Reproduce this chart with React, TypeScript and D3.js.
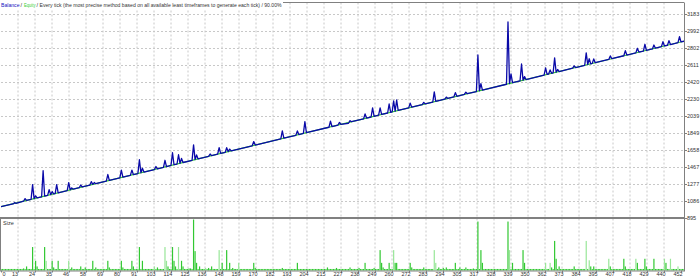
import React from 'react';
import * as d3 from 'd3';

const W = 700;
const H = 279;

// Balance curve vertices [trade, value]
const balance: [number, number][] = [
  [0,1019],[8,1050],[9,1064],[10,1056],[15,1080],[16,1109],[17,1089],[20,1101],[21,1266],[22,1109],[23,1140],[24,1117],[27,1130],[28,1423],[29,1138],
  [31,1146],[32,1210],[33,1154],[34,1187],[35,1162],[36,1166],[37,1266],[38,1175],[44,1199],[45,1288],
  [46,1207],[47,1230],[48,1215],[52,1232],[53,1262],[54,1240],[59,1260],[60,1300],[61,1269],[62,1290],[63,1277],[70,1306],[71,1380],[72,1314],[79,1342],[80,1430],[81,1350],
  [86,1371],[87,1430],[88,1379],[91,1391],[92,1546],[93,1400],[94,1450],[95,1408],[102,1436],[103,1470],[104,1444],[108,1461],[109,1540],[110,1469],[113,1482],
  [114,1625],[115,1490],[117,1498],[118,1602],[119,1506],[120,1560],[121,1515],[127,1539],[128,1714],[129,1547],[130,1600],[131,1555],[138,1584],[139,1610],[140,1592],[144,1608],[145,1681],
  [146,1617],[149,1629],[150,1681],[151,1637],[152,1665],[153,1645],[167,1703],[168,1750],[169,1711],[186,1780],[187,1871],[188,1789],
  [196,1821],[197,1870],[198,1829],[201,1842],[202,1975],[203,1850],[218,1911],[219,1980],[220,1919],[224,1936],[225,1965],[226,1944],
  [231,1956],[232,1985],[233,1973],[241,2005],[242,2060],[243,2014],[246,2026],[247,2128],[248,2034],
  [251,2046],[252,2129],[253,2055],[257,2071],[258,2172],[259,2079],[260,2083],
  [261,2208],[262,2091],[263,2217],[264,2100],[271,2128],[272,2182],[273,2136],[280,2165],[281,2190],[282,2173],[287,2194],[288,2308],[289,2202],[295,2226],[296,2250],[297,2234],[301,2251],[302,2300],[303,2259],[308,2280],[309,2305],[310,2288],[316,2312],[317,2723],
  [318,2321],[319,2400],[320,2329],[336,2394],[337,3093],[338,2402],[339,2510],[340,2411],[345,2431],[346,2622],[347,2439],[348,2480],[349,2447],[361,2496],
  [362,2578],[363,2505],[364,2509],[365,2555],[366,2517],[367,2521],[368,2690],[369,2529],[370,2560],[371,2537],[380,2574],[381,2600],
  [382,2582],[388,2607],[389,2746],[390,2615],[391,2680],[392,2623],[393,2628],[394,2678],[395,2636],[404,2673],[405,2712],[406,2681],
  [414,2714],[415,2772],[416,2722],[422,2746],[423,2798],[424,2755],[427,2767],[428,2843],[429,2775],[433,2791],
  [434,2835],[435,2799],[439,2816],[440,2872],[441,2824],[443,2832],[444,2884],[445,2840],[450,2861],[451,2929],
  [452,2869],[454,2877]
];

// Equity curve vertices [trade, value]
const equity: [number, number][] = [[0,1019],[454,2877]];

// Lot size per trade (relative units)
const sizes: number[] = [
  3,3,3,3,3,3,3,3,3,3,3,3,3,3,3,4,3,8,3,3,
  3,46,3,19,8,3,3,3,3,46,19,3,3,3,19,6,3,3,19,3,
  3,3,3,3,3,19,3,6,3,3,3,3,3,8,3,3,6,3,3,3,
  3,19,3,6,3,3,3,3,3,3,3,19,6,3,3,3,3,3,3,3,
  19,6,3,3,3,3,3,19,8,3,3,3,46,3,19,3,3,3,3,3,
  3,3,8,3,6,3,3,3,3,46,19,8,3,3,46,19,8,3,46,3,
  19,8,3,3,3,4,4,3,100,38,15,3,8,3,3,3,5,3,5,3,
  8,3,3,3,3,40,3,15,3,3,40,3,15,3,5,3,3,3,15,3,
  3,3,3,3,3,3,3,3,15,5,3,3,3,3,3,3,3,3,3,3,
  3,3,3,3,3,3,3,5,3,3,3,3,3,3,3,3,3,15,3,3,
  3,3,3,3,3,3,3,3,3,3,3,3,3,3,3,3,3,6,3,3,
  3,3,3,5,3,3,3,3,3,3,3,3,6,3,3,3,3,3,5,3,
  3,3,15,3,3,3,3,3,5,3,3,3,40,15,6,3,3,3,15,3,
  3,40,15,15,3,3,3,3,3,3,3,3,15,6,3,3,3,3,3,3,
  3,6,3,3,3,3,3,3,40,15,3,6,3,3,5,3,6,3,3,3,
  3,3,15,3,3,6,3,3,3,6,3,3,3,3,4,3,3,96,3,40,
  15,3,3,3,3,3,3,3,3,3,3,3,3,3,3,3,3,96,40,3,
  15,3,3,3,3,3,3,40,15,3,3,3,3,3,3,3,3,3,3,3,
  3,3,15,3,3,15,6,3,58,23,3,8,3,3,3,3,3,3,3,3,
  3,8,3,3,3,3,3,3,3,58,3,20,8,3,8,3,3,3,3,3,
  3,3,3,3,23,8,3,3,3,3,3,3,3,3,23,8,3,3,3,3,
  3,3,23,15,3,3,3,3,23,8,3,3,3,3,23,3,3,3,3,3,
  3,23,15,3,3,23,3,3,3,3,8,3,3,3,3
];

const lightTrades: number[] = [30,45,102,109,110,118,136,145,158,261,288,289,338,362,365,389,391,404,422,441,445,450];

const yTicks: number[] = [3183,2992,2802,2611,2420,2230,2039,1849,1658,1467,1277,1086,895];

const xTickLabels: string[] = [
  '0','13','24','35','46','58','69','80','91','103','114','125','136','148','159','170','182','193','204','215',
  '227','238','249','260','272','283','294','305','317','328','339','350','362','373','384','395','407','418','429','440','452'
];

const legendMain = 'Every tick (the most precise method based on all available least timeframes to generate each tick) / 90.00%';

const FONT = "'Liberation Sans', Arial, sans-serif";

export default function App() {
  const left = 1;
  const right = 684;
  const top = 2.5;
  const mainBottom = 218;
  const sizeBottom = 270.5;

  const x = d3.scaleLinear().domain([0, 452]).range([left, 681]);
  const xi = d3.scaleLinear().domain([0, xTickLabels.length - 1]).range([left, 681]);
  const y = d3.scaleLinear().domain([895, 3183]).range([217.7, 14]);
  const ys = d3.scaleLinear().domain([0, 100]).range([sizeBottom, 219.5]);

  const line = d3.line<[number, number]>().x(d => x(d[0])).y(d => y(d[1]));
  const lightSet = new Set(lightTrades);

  return (
    <svg width={W} height={H} style={{ position: 'absolute', left: 0, top: 0, background: '#fff' }}
      fontFamily={FONT}>
      <defs>
        <clipPath id="mainClip"><rect x={left} y={top} width={right - left} height={mainBottom - top} /></clipPath>
      </defs>
      <rect x={0} y={0} width={W} height={H} fill="#fff" />
      {/* vertical grid */}
      {xTickLabels.map((_, i) => i > 0 && i < xTickLabels.length - 1 ? (
        <line key={'vg' + i} x1={xi(i)} x2={xi(i)} y1={top} y2={sizeBottom} stroke="#c8c8c8" strokeWidth={1} strokeDasharray="2,2" />
      ) : null)}
      {/* horizontal grid */}
      {yTicks.slice(0, -1).map(v => (
        <line key={'hg' + v} x1={left} x2={right} y1={Math.round(y(v)) + 0.5} y2={Math.round(y(v)) + 0.5} stroke="#c8c8c8" strokeWidth={1} strokeDasharray="2,2" />
      ))}
      {/* lines */}
      <g clipPath="url(#mainClip)">
        <path d={line(equity) || ''} fill="none" stroke="#32cd32" strokeWidth={1.2} />
        <path d={line(balance) || ''} fill="none" stroke="#0a0aa8" strokeWidth={1.3} strokeLinejoin="round" />
      </g>
      {/* size bars */}
      {sizes.map((s, i) => (
        <rect key={'b' + i} x={x(i) - 0.6} y={ys(s)} width={1.2} height={sizeBottom - ys(s)}
          fill={lightSet.has(i) ? '#98e698' : '#32c832'} />
      ))}
      {/* borders */}
      <line x1={0} x2={right} y1={top} y2={top} stroke="#808080" strokeWidth={1} />
      <line x1={right + 0.5} x2={right + 0.5} y1={top} y2={sizeBottom + 0.5} stroke="#808080" strokeWidth={1} />
      <line x1={0} x2={right + 1} y1={mainBottom} y2={mainBottom} stroke="#808080" strokeWidth={2} />
      <line x1={0} x2={right + 1} y1={sizeBottom + 0.5} y2={sizeBottom + 0.5} stroke="#808080" strokeWidth={1} />
      <line x1={0.5} x2={0.5} y1={mainBottom} y2={sizeBottom} stroke="#808080" strokeWidth={1} />
      {/* y axis labels */}
      {yTicks.map(v => (
        <g key={'yt' + v}>
          <line x1={right} x2={right + 3} y1={Math.round(y(v)) + 0.5} y2={Math.round(y(v)) + 0.5} stroke="#808080" />
          <text x={687} y={y(v)} dy="0.35em" fontSize={5.5} fill="#333">{v}</text>
        </g>
      ))}
      {/* x axis labels */}
      {xTickLabels.map((l, i) => (
        <g key={'xt' + i}>
          <line x1={xi(i) + 0.5} x2={xi(i) + 0.5} y1={sizeBottom} y2={sizeBottom + 2} stroke="#808080" />
          <text x={i === 0 ? 4 : xi(i) - 3} y={274.5} dy="0.35em" fontSize={5.5} fill="#333" textAnchor="middle">{l}</text>
        </g>
      ))}
      {/* legend */}
      <rect x={0} y={0} width={283} height={9} fill="#fff" />
      <text x={1} y={7} fontSize={5.5} fill="#1010c0" textLength={18.5} lengthAdjust="spacingAndGlyphs">Balance</text>
      <text x={20.5} y={7} fontSize={5.5} fill="#333">/</text>
      <text x={24} y={7} fontSize={5.5} fill="#32cd32" textLength={11.5} lengthAdjust="spacingAndGlyphs">Equity</text>
      <text x={36.5} y={7} fontSize={5.5} fill="#333">/</text>
      <text x={39.5} y={7} fontSize={5.5} fill="#333" textLength={242} lengthAdjust="spacingAndGlyphs">{legendMain}</text>
      <text x={3} y={223.5} dy="0.35em" fontSize={5.5} fill="#333">Size</text>
    </svg>
  );
}
